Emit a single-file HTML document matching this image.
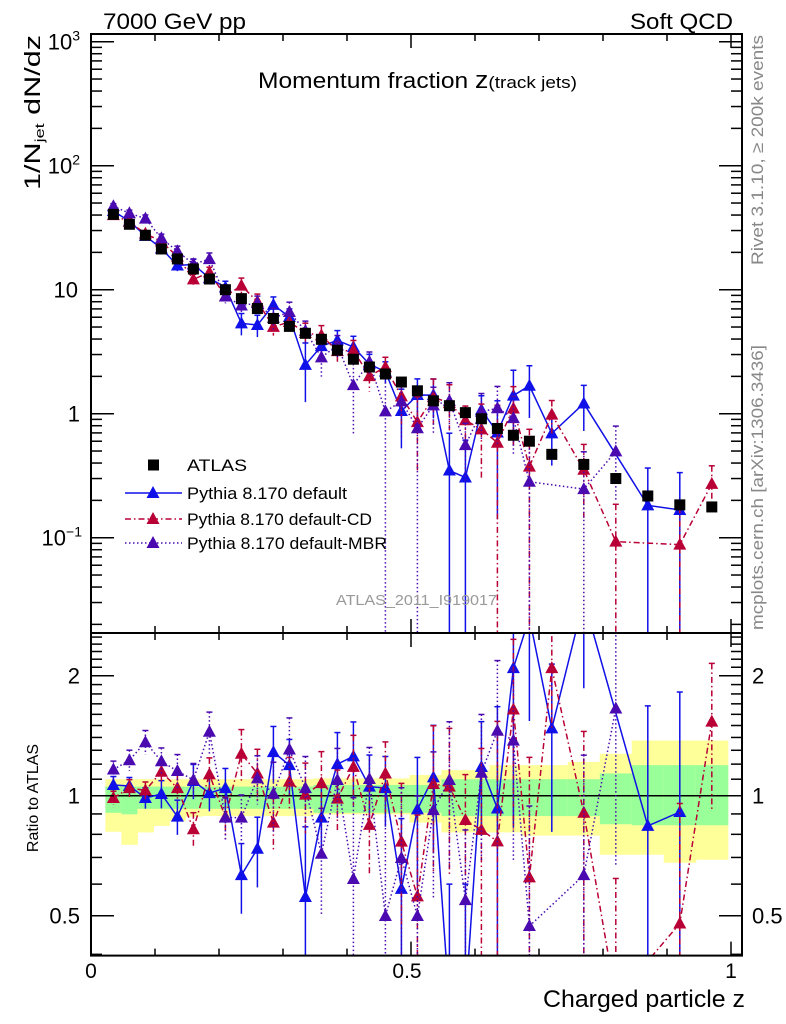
<!DOCTYPE html>
<html><head><meta charset="utf-8"><style>
html,body{margin:0;padding:0;background:#fff;width:786px;height:1024px;overflow:hidden;}
svg{display:block;font-family:"Liberation Sans",sans-serif;}
</style></head><body>
<svg id="chart" width="786" height="1024" viewBox="0 0 786 1024">
<defs>
<clipPath id="cm"><rect x="91" y="34" width="651" height="599"/></clipPath>
<clipPath id="cr"><rect x="91" y="633" width="651" height="322"/></clipPath>
</defs>
<g id="bands" clip-path="url(#cr)"></g>
<g id="series-main" clip-path="url(#cm)"></g>
<g id="series-ratio" clip-path="url(#cr)"></g>
<g id="axes"></g>
<text x="103" y="29" font-size="22" textLength="143" lengthAdjust="spacingAndGlyphs">7000 GeV pp</text>
<text x="630" y="29" font-size="22" textLength="103" lengthAdjust="spacingAndGlyphs">Soft QCD</text>
<text x="258" y="88" font-size="22" textLength="319" lengthAdjust="spacingAndGlyphs">Momentum fraction <tspan font-size="24">z</tspan><tspan font-size="17">(track jets)</tspan></text>
<text transform="translate(40,190) rotate(-90)" font-size="22" textLength="155" lengthAdjust="spacingAndGlyphs">1/N<tspan font-size="13" dy="4">jet</tspan><tspan dy="-4"> dN/dz</tspan></text>
<text transform="translate(38,798) rotate(-90)" font-size="16" text-anchor="middle">Ratio to ATLAS</text>
<text x="543" y="1007" font-size="24" textLength="202" lengthAdjust="spacingAndGlyphs">Charged particle z</text>
<text transform="translate(763,265) rotate(-90)" font-size="17" fill="#888" textLength="230" lengthAdjust="spacingAndGlyphs">Rivet 3.1.10, ≥ 200k events</text>
<text transform="translate(763,630) rotate(-90)" font-size="17" fill="#888" textLength="285" lengthAdjust="spacingAndGlyphs">mcplots.cern.ch [arXiv:1306.3436]</text>
<text x="336" y="605" font-size="15" fill="#999" textLength="161" lengthAdjust="spacingAndGlyphs">ATLAS_2011_I919017</text>
<g id="legend"></g>
</svg>
<script>
const zVals=[0.035,0.06,0.085,0.11,0.135,0.16,0.185,0.21,0.235,0.26,0.285,0.31,0.335,0.36,0.385,0.41,0.435,0.46,0.485,0.51,0.535,0.56,0.585,0.61,0.635,0.66,0.685,0.72,0.77,0.82,0.87,0.92,0.97];
const binHalf=[0.0125,0.0125,0.0125,0.0125,0.0125,0.0125,0.0125,0.0125,0.0125,0.0125,0.0125,0.0125,0.0125,0.0125,0.0125,0.0125,0.0125,0.0125,0.0125,0.0125,0.0125,0.0125,0.0125,0.0125,0.0125,0.0125,0.0125,0.025,0.025,0.025,0.025,0.025,0.025];
const atlasVals=[40.5,33.7,27.5,21.3,17.7,14.7,12.2,10,8.47,7.05,5.86,5.06,4.45,3.98,3.25,2.75,2.38,2.09,1.80,1.53,1.27,1.16,1.02,0.91,0.76,0.67,0.60,0.47,0.39,0.30,0.217,0.184,0.177];
const ratioDefault=[1.064,1.058,0.987,1.01,0.886,1.089,1.015,1.045,0.632,0.736,1.286,1.193,0.557,0.881,1.20,1.255,1.054,1.045,0.584,0.924,1.112,0.3,0.3,1.18,0.929,2.09,2.8,1.475,3.1,null,0.84,0.91,null];
const ratioCD=[0.987,1.045,1.031,1.148,1.045,0.824,1.131,0.884,1.274,1.137,0.856,1.085,1.006,1.075,0.983,1.181,0.845,1.137,0.767,0.559,1.07,1.054,0.869,0.821,0.768,1.645,0.624,2.09,0.906,0.31,null,0.478,1.534];
const ratioMBR=[1.163,1.227,1.362,1.22,1.153,1.095,1.447,0.881,0.881,1.105,1.011,1.306,1.045,0.715,1.095,0.618,1.101,0.499,0.698,0.499,0.92,1.095,0.547,1.142,1.455,1.375,0.471,null,0.632,1.655,null,null,null];
const errDefault=[0.05,0.05,0.06,0.08,0.1,0.1,0.1,0.12,0.2,0.2,0.16,0.16,0.5,0.2,0.2,0.22,0.2,0.2,0.5,0.35,0.35,1,1,0.3,0.8,0.6,0.45,0.45,0.4,0,1,1,0];
const errCD=[0.04,0.05,0.05,0.06,0.08,0.1,0.1,0.12,0.15,0.15,0.15,0.15,0.2,0.2,0.18,0.2,0.25,0.2,0.4,0.6,0.4,0.4,0.3,0.6,1,0.5,1,0.3,0.6,1,0,1,0.4];
const errMBR=[0.05,0.06,0.07,0.08,0.1,0.1,0.12,0.12,0.14,0.14,0.2,0.2,0.2,0.3,0.2,0.6,0.2,1,0.5,1,0.4,0.4,0.5,0.4,0.5,0.5,1,0,1,0.6,0,0,0];
const yellowUp=[1.10,1.10,1.10,1.10,1.10,1.10,1.10,1.10,1.10,1.10,1.10,1.10,1.10,1.105,1.105,1.105,1.105,1.105,1.105,1.127,1.127,1.159,1.159,1.159,1.193,1.193,1.193,1.193,1.216,1.274,1.375,1.375,1.375];
const yellowLow=[0.812,0.753,0.809,0.84,0.864,0.886,0.889,0.889,0.889,0.889,0.889,0.889,0.889,0.898,0.898,0.898,0.898,0.898,0.898,0.856,0.856,0.809,0.809,0.809,0.809,0.809,0.794,0.794,0.794,0.711,0.711,0.679,0.691];
const greenUp=[1.054,1.054,1.054,1.054,1.054,1.054,1.054,1.054,1.054,1.054,1.054,1.054,1.054,1.064,1.064,1.064,1.064,1.064,1.064,1.064,1.064,1.10,1.10,1.10,1.10,1.10,1.10,1.10,1.10,1.137,1.193,1.193,1.193];
const greenLow=[0.906,0.898,0.927,0.927,0.927,0.927,0.927,0.927,0.927,0.927,0.927,0.927,0.927,0.906,0.906,0.906,0.906,0.906,0.906,0.906,0.906,0.889,0.889,0.889,0.889,0.889,0.889,0.889,0.889,0.848,0.843,0.843,0.843];

const NS='http://www.w3.org/2000/svg';
const X=z=>91+z*640;
const Y=v=>41.7+124*(3-Math.log10(v));
const R=r=>795.7-120*Math.log2(r);
function mk(p,tag,at){const e=document.createElementNS(NS,tag);for(const k in at)e.setAttribute(k,at[k]);p.appendChild(e);return e;}
const gB=document.getElementById('bands'),gM=document.getElementById('series-main'),gR=document.getElementById('series-ratio'),gA=document.getElementById('axes'),gL=document.getElementById('legend');

zVals.forEach((z,i)=>{
  const x0=X(z-binHalf[i]),x1=X(z+binHalf[i]);
  const y=mk(gB,'rect',{x:x0,y:R(yellowUp[i]),width:x1-x0+0.5,height:R(yellowLow[i])-R(yellowUp[i]),fill:'#ffff99'});
  
  
  const g=mk(gB,'rect',{x:x0,y:R(greenUp[i]),width:x1-x0+0.5,height:R(greenLow[i])-R(greenUp[i]),fill:'#99ff99'});
  
  
});
const one=mk(gR,'line',{x1:91,x2:742,y1:R(1),y2:R(1),stroke:'#000','stroke-width':1.5});



function tri(p,x,y,c){return mk(p,'path',{d:`M${x},${y-7}L${x+6.5},${y+5}L${x-6.5},${y+5}Z`,fill:c});}
const series=[
 {name:'pythia-default',ratio:ratioDefault,err:errDefault,color:'#1010e8',dash:''},
 {name:'pythia-default-cd',ratio:ratioCD,err:errCD,color:'#b80036',dash:'6,3,1.5,3'},
 {name:'pythia-default-mbr',ratio:ratioMBR,err:errMBR,color:'#4a0ab0',dash:'1.5,2.5'}
];
series.forEach(s=>{
  let pts=[],rpts=[];
  zVals.forEach((z,i)=>{
    const r=s.ratio[i]; if(r==null)return;
    const v=atlasVals[i]*r; pts.push([X(z),Y(v)]); rpts.push([X(z),R(r)]);
    const e=s.err[i];
    const lo=v*(1-e),hi=v*(1+e),rlo=r*(1-e),rhi=r*(1+e);
    const eb=mk(gM,'line',{x1:X(z),x2:X(z),y1:Y(hi),y2:lo>0?Y(lo):640,stroke:s.color,'stroke-width':1.5,'stroke-dasharray':s.dash});
    
    
    mk(gM,'line',{x1:X(z)-3,x2:X(z)+3,y1:Y(hi),y2:Y(hi),stroke:s.color,'stroke-width':1.5});
    const rb=mk(gR,'line',{x1:X(z),x2:X(z),y1:R(rhi),y2:rlo>0?Math.min(R(rlo),960):960,stroke:s.color,'stroke-width':1.5,'stroke-dasharray':s.dash});
    
    
    mk(gR,'line',{x1:X(z)-3,x2:X(z)+3,y1:R(rhi),y2:R(rhi),stroke:s.color,'stroke-width':1.5});
  });
  const l=mk(gM,'polyline',{points:pts.map(p=>p.join(',')).join(' '),fill:'none',stroke:s.color,'stroke-width':1.5,'stroke-dasharray':s.dash});
  
  
  const rl=mk(gR,'polyline',{points:rpts.map(p=>p.join(',')).join(' '),fill:'none',stroke:s.color,'stroke-width':1.5,'stroke-dasharray':s.dash});
  
  
  pts.forEach(p=>{const t=tri(gM,p[0],p[1],s.color);
    
    });
  rpts.forEach(p=>{const t=tri(gR,p[0],p[1],s.color);
    
    });
});
zVals.forEach((z,i)=>{
  const sq=mk(gM,'rect',{x:X(z)-5.5,y:Y(atlasVals[i])-5.5,width:11,height:11,fill:'#000'});
  
  
});

function frame(y0,y1){return mk(gA,'rect',{x:91,y:y0,width:651,height:y1-y0,fill:'none',stroke:'#000','stroke-width':2});}
const f1=frame(34,633);
const f2=frame(633,955.6);
for(let k=0;k<=10;k++){const z=k/10,len=(k%5==0)?14:7;
  [[34,1],[633,-1],[633,1],[955.6,-1]].forEach(([yb,d])=>mk(gA,'line',{x1:X(z),x2:X(z),y1:yb,y2:yb+d*len,stroke:'#000','stroke-width':1.5}));}
const xLabels=['0','0.5','1'];
xLabels.forEach((t,k)=>{const e=mk(gA,'text',{x:X(k*0.5)-(k==1?4:0),y:978,'font-size':21,'text-anchor':'middle'});e.textContent=t;
  
  });
for(let d=-2;d<=3;d++){for(let m=1;m<10;m++){const v=m*Math.pow(10,d);const y=Y(v);if(y<34||y>633)continue;const len=m==1?23:11;
  mk(gA,'line',{x1:91,x2:91+len,y1:y,y2:y,stroke:'#000','stroke-width':1.5});
  mk(gA,'line',{x1:742,x2:742-len,y1:y,y2:y,stroke:'#000','stroke-width':1.5});}}
const yTickVals=[1000,100,10,1,0.1];
const yTickText=[['10','3'],['10','2'],['10',''],['1',''],['10','−1']];
const yTickX=[80,80,78,80,82];
yTickVals.forEach((v,i)=>{const e=mk(gA,'text',{x:yTickX[i],y:Y(v)+8,'font-size':22,'text-anchor':'end'});
  e.textContent=yTickText[i][0];
  if(yTickText[i][1]){const s=mk(e,'tspan',{'font-size':14,dy:-9});s.textContent=yTickText[i][1];}
  
  });
const rMinor=[0.4,0.5,0.6,0.7,0.8,0.9,1,1.1,1.2,1.3,1.4,1.5,1.6,1.7,1.8,1.9,2,2.1,2.2,2.3,2.4,2.5];
rMinor.forEach(r=>{const y=R(r);if(y<634||y>955)return;const len=(r==0.5||r==1||r==2)?23:11;
  mk(gA,'line',{x1:91,x2:91+len,y1:y,y2:y,stroke:'#000','stroke-width':1.5});
  mk(gA,'line',{x1:742,x2:742-len,y1:y,y2:y,stroke:'#000','stroke-width':1.5});});
const rLabels=[2,1,0.5];
rLabels.forEach(r=>{[[80,'end'],[752,'start']].forEach(([x,a])=>{const e=mk(gA,'text',{x:x,y:R(r)+8,'font-size':22,'text-anchor':a});e.textContent=String(r);
  
  });});

const legNames=['ATLAS','Pythia 8.170 default','Pythia 8.170 default-CD','Pythia 8.170 default-MBR'];
const legY=[465,493,519,543];
const legLen=[60,160,185,200];
legNames.forEach((n,i)=>{const g=mk(gL,'g',{});
  
  
  if(i==0){mk(g,'rect',{x:148,y:legY[i]-5.5,width:11,height:11,fill:'#000'});}
  else{const s=series[i-1];mk(g,'line',{x1:125,x2:182,y1:legY[i],y2:legY[i],stroke:s.color,'stroke-width':1.5,'stroke-dasharray':s.dash});tri(g,153,legY[i],s.color);}
  const t=mk(g,'text',{x:187,y:legY[i]+6,'font-size':17,textLength:legLen[i],lengthAdjust:'spacingAndGlyphs'});t.textContent=n;});
</script>
</body></html>
